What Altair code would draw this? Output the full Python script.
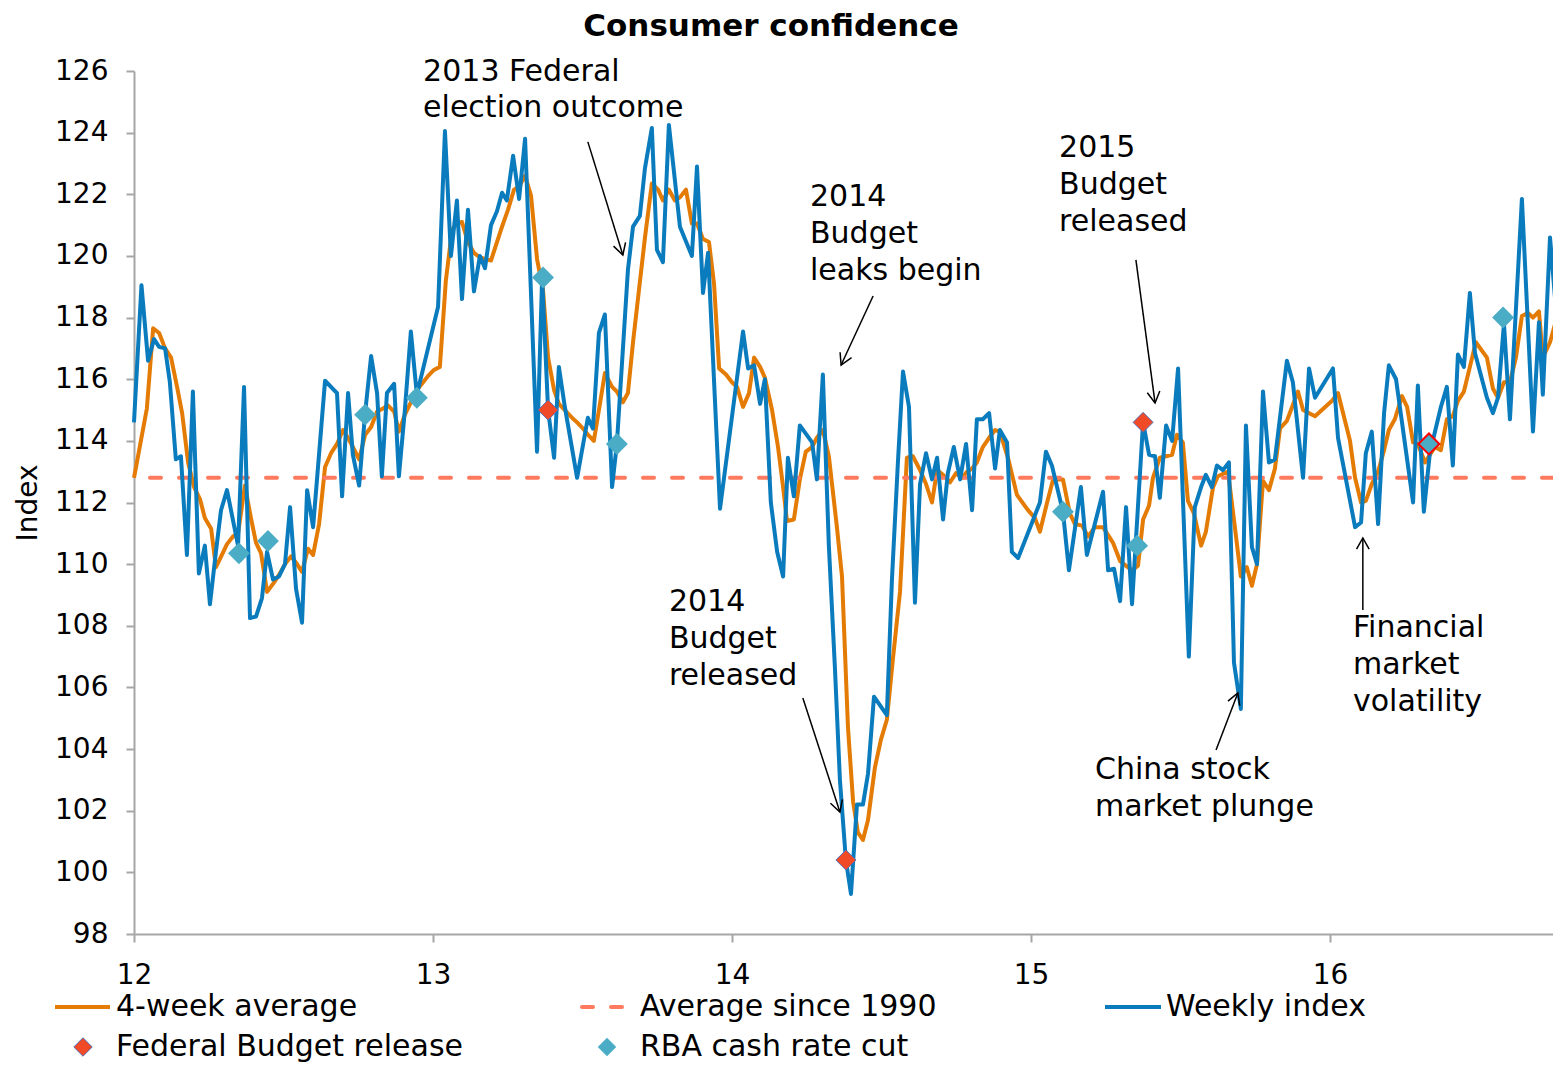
import math
import altair as alt
import pandas as pd

# ---------------- data ----------------
weekly_year = [12.000, 12.025, 12.047, 12.067, 12.084, 12.104, 12.120, 12.140, 12.157, 12.177,
               12.197, 12.217, 12.237, 12.254, 12.274, 12.291, 12.311, 12.348, 12.368, 12.388,
               12.408, 12.428, 12.445, 12.465, 12.485, 12.505, 12.522, 12.542, 12.562, 12.579,
               12.599, 12.639, 12.679, 12.696, 12.716, 12.732, 12.753, 12.773, 12.793, 12.813,
               12.829, 12.846, 12.870, 12.886, 12.906, 12.926, 12.946, 13.017, 13.040, 13.060,
               13.080, 13.097, 13.117, 13.137, 13.157, 13.174, 13.194, 13.214, 13.231, 13.247,
               13.268, 13.288, 13.308, 13.348, 13.365, 13.385, 13.405, 13.421, 13.441, 13.482,
               13.518, 13.535, 13.555, 13.575, 13.599, 13.615, 13.652, 13.669, 13.692, 13.709,
               13.732, 13.749, 13.769, 13.789, 13.826, 13.866, 13.883, 13.903, 13.920, 13.960,
               14.037, 14.054, 14.074, 14.094, 14.110, 14.130, 14.151, 14.171, 14.187, 14.207,
               14.227, 14.268, 14.284, 14.304, 14.324, 14.344, 14.361, 14.381, 14.398, 14.418,
               14.438, 14.455, 14.475, 14.518, 14.535, 14.555, 14.572, 14.592, 14.612, 14.629,
               14.649, 14.669, 14.686, 14.706, 14.722, 14.742, 14.763, 14.783, 14.803, 14.819,
               14.839, 14.860, 14.880, 14.896, 14.920, 14.936, 14.957, 15.030, 15.050, 15.070,
               15.107, 15.127, 15.167, 15.187, 15.241, 15.258, 15.278, 15.298, 15.318, 15.338,
               15.375, 15.395, 15.415, 15.431, 15.452, 15.472, 15.492, 15.528, 15.548, 15.569,
               15.585, 15.605, 15.622, 15.642, 15.662, 15.679, 15.702, 15.719, 15.739, 15.756,
               15.776, 15.796, 15.816, 15.856, 15.876, 15.910, 15.930, 15.950, 16.010, 16.027,
               16.084, 16.104, 16.120, 16.140, 16.161, 16.181, 16.197, 16.221, 16.278, 16.294,
               16.314, 16.334, 16.371, 16.391, 16.411, 16.428, 16.448, 16.468, 16.485, 16.525,
               16.545, 16.562, 16.582, 16.602, 16.642, 16.679, 16.699, 16.712, 16.736, 16.759]
weekly_index = [114.6, 119.05, 116.6, 117.3, 117.05, 117.0, 115.9, 113.4, 113.5, 110.3,
                115.6, 109.7, 110.6, 108.7, 110.4, 111.75, 112.4, 110.6, 115.75, 108.25,
                108.3, 108.9, 110.4, 109.5, 109.6, 110.0, 111.85, 109.2, 108.1, 112.4,
                111.2, 115.95, 115.55, 112.2, 115.55, 113.55, 112.55, 114.9, 116.75, 115.55,
                112.85, 115.55, 115.85, 112.85, 115.0, 117.55, 115.5, 118.35, 124.05, 120.0,
                121.8, 118.6, 121.5, 118.85, 120.0, 119.6, 121.0, 121.45, 122.05, 121.8,
                123.25, 121.85, 123.8, 113.65, 119.3, 115.0, 113.45, 116.4, 115.1, 112.8,
                114.75, 114.4, 117.5, 118.1, 112.5, 113.9, 119.55, 120.95, 121.3, 122.85,
                124.15, 120.2, 119.8, 124.25, 120.95, 120.0, 122.9, 118.8, 120.1, 111.8,
                117.55, 116.35, 116.45, 115.2, 116.0, 112.0, 110.4, 109.6, 113.45, 112.2,
                114.5, 113.95, 112.75, 116.15, 110.6, 106.7, 103.0, 100.4, 99.3, 102.2,
                102.2, 103.2, 105.7, 105.1, 109.5, 113.3, 116.25, 115.1, 108.75, 112.6,
                113.6, 112.75, 113.45, 111.45, 112.95, 113.8, 112.75, 113.9, 111.75, 114.7,
                114.7, 114.9, 113.1, 114.35, 113.95, 110.4, 110.2, 112.0, 113.65, 113.2,
                111.7, 109.8, 112.5, 110.3, 112.35, 109.8, 109.85, 108.8, 111.85, 108.7,
                114.6, 113.55, 113.5, 112.15, 114.5, 114.0, 116.35, 107.0, 111.85, 112.5,
                112.9, 112.5, 113.2, 113.05, 113.3, 106.8, 105.3, 114.5, 110.55, 110.0,
                115.6, 113.3, 113.4, 116.6, 115.9, 112.8, 116.35, 115.4, 116.35, 114.1,
                111.2, 111.35, 113.6, 114.3, 111.3, 114.9, 116.45, 116.0, 112.0, 115.8,
                111.7, 113.6, 115.1, 115.75, 113.2, 116.8, 116.4, 118.8, 116.85, 115.4,
                114.9, 115.4, 117.8, 114.7, 121.85, 114.3, 117.85, 115.5, 120.6, 117.9]

avg4_year = [12.000, 12.023, 12.043, 12.064, 12.084, 12.104, 12.124, 12.144, 12.161, 12.181,
             12.201, 12.221, 12.237, 12.258, 12.274, 12.294, 12.311, 12.331, 12.348, 12.371,
             12.391, 12.408, 12.425, 12.445, 12.468, 12.488, 12.505, 12.525, 12.542, 12.562,
             12.582, 12.599, 12.619, 12.639, 12.659, 12.679, 12.699, 12.716, 12.732, 12.753,
             12.773, 12.793, 12.813, 12.833, 12.849, 12.870, 12.886, 12.906, 12.926, 12.946,
             12.963, 12.983, 13.003, 13.023, 13.043, 13.064, 13.080, 13.097, 13.117, 13.137,
             13.157, 13.174, 13.194, 13.214, 13.231, 13.251, 13.271, 13.288, 13.308, 13.328,
             13.348, 13.368, 13.385, 13.405, 13.421, 13.441, 13.465, 13.482, 13.502, 13.518,
             13.538, 13.555, 13.575, 13.599, 13.615, 13.635, 13.652, 13.669, 13.689, 13.709,
             13.732, 13.753, 13.769, 13.789, 13.809, 13.826, 13.846, 13.866, 13.883, 13.903,
             13.923, 13.940, 13.957, 13.980, 14.000, 14.017, 14.037, 14.057, 14.074, 14.094,
             14.110, 14.134, 14.154, 14.171, 14.184, 14.207, 14.227, 14.247, 14.268, 14.284,
             14.304, 14.324, 14.351, 14.368, 14.388, 14.405, 14.421, 14.438, 14.455, 14.478,
             14.498, 14.518, 14.538, 14.562, 14.585, 14.605, 14.629, 14.649, 14.669, 14.686,
             14.706, 14.729, 14.749, 14.769, 14.786, 14.803, 14.819, 14.839, 14.860, 14.880,
             14.896, 14.923, 14.953, 14.990, 15.013, 15.030, 15.054, 15.074, 15.107, 15.130,
             15.147, 15.171, 15.191, 15.214, 15.241, 15.274, 15.298, 15.338, 15.358, 15.375,
             15.395, 15.408, 15.431, 15.472, 15.488, 15.508, 15.525, 15.545, 15.569, 15.585,
             15.609, 15.625, 15.659, 15.682, 15.702, 15.722, 15.739, 15.756, 15.776, 15.796,
             15.816, 15.833, 15.856, 15.893, 15.910, 15.950, 16.007, 16.027, 16.067, 16.084,
             16.104, 16.120, 16.140, 16.161, 16.181, 16.197, 16.217, 16.241, 16.258, 16.278,
             16.294, 16.318, 16.351, 16.371, 16.391, 16.411, 16.428, 16.448, 16.468, 16.488,
             16.525, 16.545, 16.562, 16.582, 16.602, 16.622, 16.642, 16.662, 16.679, 16.699,
             16.712, 16.736, 16.759]
avg4_index = [112.8, 114.0, 115.05, 117.65, 117.5, 117.0, 116.7, 115.75, 114.9, 113.3,
              112.5, 112.1, 111.5, 111.15, 109.9, 110.3, 110.65, 110.9, 111.0, 112.55,
              111.5, 110.7, 110.35, 109.1, 109.4, 109.7, 110.0, 110.25, 110.05, 109.75,
              110.5, 110.3, 111.3, 113.15, 113.6, 113.9, 114.35, 114.1, 113.8, 113.4,
              114.2, 114.45, 114.95, 115.05, 115.15, 114.95, 114.3, 114.85, 115.25, 115.65,
              115.85, 116.1, 116.3, 116.4, 119.2, 120.85, 121.05, 121.1, 120.45, 120.1,
              119.95, 119.9, 119.85, 120.45, 120.95, 121.5, 122.15, 122.25, 122.6, 121.95,
              119.9, 118.9, 116.7, 115.65, 115.2, 115.0, 114.75, 114.6, 114.4, 114.2,
              114.0, 115.0, 116.2, 115.75, 115.6, 115.25, 115.55, 117.2, 118.9, 120.6,
              122.35, 122.15, 121.8, 122.15, 121.8, 121.9, 122.15, 121.05, 121.05, 120.55,
              120.45, 119.1, 116.35, 116.15, 115.9, 115.75, 115.1, 115.55, 116.7, 116.4,
              116.05, 115.0, 113.8, 112.5, 111.4, 111.45, 112.75, 113.65, 113.8, 114.1,
              114.35, 113.5, 111.2, 109.6, 104.7, 102.3, 101.3, 101.05, 101.7, 103.4,
              104.3, 104.95, 106.9, 109.1, 113.45, 113.5, 113.05, 112.6, 112.0, 113.05,
              112.9, 112.65, 112.95, 112.8, 113.0, 113.1, 113.3, 113.8, 114.1, 114.35,
              114.3, 113.45, 112.25, 111.75, 111.5, 111.05, 112.0, 112.75, 112.75, 111.65,
              111.3, 111.25, 110.9, 111.2, 111.2, 110.7, 110.1, 109.8, 109.95, 111.45,
              111.9, 112.8, 113.45, 113.55, 114.2, 113.95, 112.05, 111.65, 110.6, 111.05,
              112.5, 112.85, 113.0, 111.2, 109.6, 109.9, 109.3, 110.0, 112.7, 112.4,
              113.1, 114.4, 114.65, 115.6, 115.0, 114.8, 115.3, 115.55, 114.0, 112.8,
              112.0, 112.05, 112.6, 113.0, 113.7, 114.35, 114.7, 115.45, 115.1, 113.95,
              113.9, 113.3, 113.8, 113.7, 114.7, 114.8, 115.3, 115.6, 116.4, 117.2,
              116.7, 115.7, 115.4, 115.9, 115.9, 116.7, 118.05, 118.15, 118.0, 118.2,
              116.7, 117.2, 118.0]

avg_since_1990 = 112.8

budget_year = [13.385, 14.381, 15.375, 16.331]
budget_value = [115.0, 100.4, 114.6, 113.9]

rba_year = [12.351, 12.448, 12.773, 12.946, 13.368, 13.615, 15.107, 15.355, 16.331, 16.579]
rba_value = [110.35, 110.75, 114.85, 115.4, 119.3, 113.9, 111.7, 110.6, 113.9, 118.0]

x_ticks = [12, 13, 14, 15, 16]
y_ticks = list(range(98, 127, 2))

# annotation texts (one row per line) and arrows, in data units
ann_text = ["2013 Federal", "election outcome",
            "2014", "Budget", "leaks begin",
            "2015", "Budget", "released",
            "2014", "Budget", "released",
            "China stock", "market plunge",
            "Financial", "market", "volatility"]
ann_x = [12.967, 12.967, 14.261, 14.261, 14.261, 15.094, 15.094, 15.094,
         13.789, 13.789, 13.789, 15.214, 15.214, 16.077, 16.077, 16.077]
ann_y = [125.97, 124.80, 121.91, 120.71, 119.51, 123.50, 122.30, 121.10,
         108.77, 107.57, 106.37, 103.32, 102.12, 107.93, 106.73, 105.53]

arrow_x1 = [13.518, 14.472, 15.351, 14.237, 15.619, 16.110]
arrow_y1 = [123.70, 118.70, 119.87, 105.66, 103.97, 108.51]
arrow_x2 = [13.635, 14.365, 15.415, 14.361, 15.692, 16.110]
arrow_y2 = [120.03, 116.46, 115.23, 101.96, 105.82, 110.85]

# ---------------- styling ----------------
W, H = 1419, 863
X_DOMAIN = [12, 16.746]
Y_DOMAIN = [98, 126]
FONT = "DejaVu Sans"
BLUE = "#0A7BBD"
ORANGE = "#E37B04"
DASH = "#FF7A5E"
RED = "#F04B26"
TEAL = "#4BACC6"
GREY = "#A6A6A6"

xs = alt.Scale(domain=X_DOMAIN, nice=False, zero=False)
ys = alt.Scale(domain=Y_DOMAIN, nice=False, zero=False)

x_axis = alt.Axis(values=x_ticks, format="d", title=None, grid=False,
                  labelFontSize=28, labelColor="black", labelFont=FONT,
                  labelFlush=False, labelPadding=19,
                  tickSize=8, tickColor=GREY, tickWidth=2,
                  domainColor=GREY, domainWidth=2)
y_axis = alt.Axis(values=y_ticks, title="Index", grid=False,
                  labelFontSize=28, labelColor="black", labelFont=FONT,
                  labelPadding=18,
                  tickSize=8, tickColor=GREY, tickWidth=2,
                  domainColor=GREY, domainWidth=2,
                  titleFontSize=28, titleFontWeight="normal", titleFont=FONT,
                  titleColor="black", titlePadding=12)


def X(field):
    return alt.X(field, type="quantitative", scale=xs, axis=x_axis)


def Y(field):
    return alt.Y(field, type="quantitative", scale=ys, axis=y_axis)


weekly_df = pd.DataFrame({"year": weekly_year, "value": weekly_index})
avg_df = pd.DataFrame({"year": avg4_year, "value": avg4_index})
budget_df = pd.DataFrame({"year": budget_year, "value": budget_value})
rba_df = pd.DataFrame({"year": rba_year, "value": rba_value})
both_df = rba_df[rba_df["year"].isin(budget_year)]

orange = alt.Chart(avg_df).mark_line(color=ORANGE, strokeWidth=4, strokeJoin="round").encode(
    x=X("year"), y=Y("value"))

dashed = alt.Chart(pd.DataFrame({"value": [avg_since_1990]})).mark_rule(
    color=DASH, strokeWidth=4, strokeDash=[11, 18], strokeCap="round").encode(y=Y("value"))

blue = alt.Chart(weekly_df).mark_line(color=BLUE, strokeWidth=4, strokeJoin="round").encode(
    x=X("year"), y=Y("value"))

budget = alt.Chart(budget_df).mark_point(shape="diamond", filled=True, fill=RED, stroke="#5570B8",
                                         strokeWidth=1, size=400, opacity=1).encode(
    x=X("year"), y=Y("value"))
rba = alt.Chart(rba_df).mark_point(shape="diamond", filled=True, fill=TEAL, strokeWidth=0,
                                   size=480, opacity=1).encode(x=X("year"), y=Y("value"))
both = alt.Chart(both_df).mark_point(shape="diamond", filled=True, fill=TEAL, stroke="#FF0000",
                                     strokeWidth=2, size=440, opacity=1).encode(
    x=X("year"), y=Y("value"))

ann_df = pd.DataFrame({"x": ann_x, "y": ann_y, "text": ann_text})
annotations = alt.Chart(ann_df).mark_text(align="left", baseline="middle", fontSize=30,
                                          font=FONT, color="black").encode(
    x=X("x"), y=Y("y"), text="text:N")

px_per_x = W / (X_DOMAIN[1] - X_DOMAIN[0])
px_per_y = H / (Y_DOMAIN[1] - Y_DOMAIN[0])
angles = [math.degrees(math.atan2(-(b2 - b1) * px_per_y, (a2 - a1) * px_per_x)) % 360
          for a1, b1, a2, b2 in zip(arrow_x1, arrow_y1, arrow_x2, arrow_y2)]
arrow_df = pd.DataFrame({"x1": arrow_x1, "y1": arrow_y1, "x2": arrow_x2, "y2": arrow_y2,
                         "angle": angles})
arrows = alt.Chart(arrow_df).mark_rule(color="black", strokeWidth=1.5).encode(
    x=X("x1"), y=Y("y1"), x2="x2:Q", y2="y2:Q")
heads = alt.Chart(arrow_df).mark_point(shape="M-1.6,-0.9L0,0L-1.6,0.9", filled=False,
                                       stroke="black", strokeWidth=1.5, size=196,
                                       opacity=1).encode(
    x=X("x2"), y=Y("y2"), angle=alt.Angle("angle:Q", scale=None))


# ---------------- legend (drawn by hand) ----------------
def label(text, x, y):
    return alt.Chart(pd.DataFrame({"t": [text]})).mark_text(
        align="left", baseline="middle", fontSize=30, font=FONT, color="black").encode(
        x=alt.value(x), y=alt.value(y), text="t:N")


def swatch(x1, x2, y, color, dash=None):
    kw = dict(color=color, strokeWidth=4)
    if dash:
        kw.update(strokeDash=dash, strokeCap="round")
    return alt.Chart(pd.DataFrame({"t": [0]})).mark_rule(**kw).encode(
        x=alt.value(x1), x2=alt.value(x2), y=alt.value(y))


def diamond(x, y, fill, stroke=None):
    kw = dict(shape="diamond", filled=True, fill=fill, size=340, opacity=1)
    if stroke:
        kw.update(stroke=stroke, strokeWidth=1)
    else:
        kw.update(strokeWidth=0)
    return alt.Chart(pd.DataFrame({"t": [0]})).mark_point(**kw).encode(
        x=alt.value(x), y=alt.value(y))


R1, R2 = 936, 976
legend_layers = [
    swatch(-79, -24, R1, ORANGE), label("4-week average", -18, R1),
    swatch(448, 492, R1, DASH, [11, 18]), label("Average since 1990", 506, R1),
    swatch(971, 1027, R1, BLUE), label("Weekly index", 1032, R1),
    diamond(-51, R2, RED, "#5570B8"), label("Federal Budget release", -18, R2),
    diamond(473, R2, TEAL), label("RBA cash rate cut", 506, R2),
]

title = alt.Chart(pd.DataFrame({"t": ["Consumer confidence"]})).mark_text(
    align="center", baseline="middle", fontSize=31, fontWeight="bold", font=FONT,
    color="black").encode(x=alt.value(637), y=alt.value(-44), text="t:N")

chart = alt.layer(orange, dashed, blue, budget, rba, both, annotations, arrows, heads,
                  *legend_layers, title).properties(
    width=W, height=H,
    padding={"left": 126, "top": 63, "right": 0, "bottom": 130},
    autosize=alt.AutoSizeParams(type="none"),
).configure(font=FONT).configure_view(stroke=None)

chart.save("out.html", embed_options={"renderer": "svg", "actions": False})
